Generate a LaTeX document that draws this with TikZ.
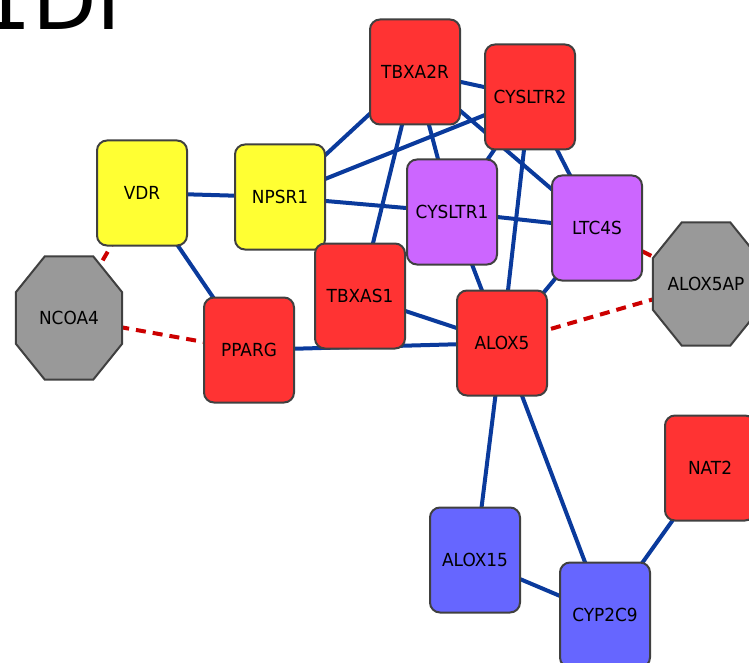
\documentclass[tikz,border=0pt]{standalone}
\usepackage{fontspec}
\setmainfont{DejaVu Sans}[FakeStretch=0.94]
\newfontfamily\titlefont{DejaVu Sans}
\usetikzlibrary{backgrounds}

\definecolor{genered}{HTML}{FF3333}
\definecolor{geneyellow}{HTML}{FFFF33}
\definecolor{genepurple}{HTML}{CC66FF}
\definecolor{geneblue}{HTML}{6666FF}
\definecolor{genegrey}{HTML}{999999}
\definecolor{edgeblue}{HTML}{0A3A9C}
\definecolor{edgered}{HTML}{CC0000}
\definecolor{bordergrey}{HTML}{404040}

\tikzset{
  gene/.style={draw=bordergrey, line width=2pt, rounded corners=10pt,
    minimum width=90pt, minimum height=105pt, inner sep=0pt,
    font=\fontsize{18}{18}\selectfont},
  octnode/.style={minimum width=106pt, minimum height=123pt, inner sep=0pt,
    font=\fontsize{18}{18}\selectfont},
  octagon/.style={draw=bordergrey, line width=2pt, fill=genegrey},
  link/.style={edgeblue, line width=4pt},
  predicted/.style={edgered, line width=4pt, dash pattern=on 10pt off 7pt}
}

% octagon round a named node
\newcommand{\drawoct}[1]{%
  \draw[octagon] ([xshift=29pt]#1.north west) -- ([xshift=-29pt]#1.north east)
    -- ([yshift=-36pt]#1.north east) -- ([yshift=36pt]#1.south east)
    -- ([xshift=-29pt]#1.south east) -- ([xshift=29pt]#1.south west)
    -- ([yshift=36pt]#1.south west) -- ([yshift=-36pt]#1.north west) -- cycle;}

\begin{document}
\begin{tikzpicture}[x=1pt,y=-1pt]
            \useasboundingbox (0,0) rectangle (749,663);

            % title, cut at the top
            \node[anchor=base west, inner sep=0pt, font=\titlefont\fontsize{84}{84}\selectfont] (title) at (-21.6,30) {1DI};

            % draw the genes
            \node[gene, fill=genered] (tbxa2r) at (415,72) {TBXA2R};
            \node[gene, fill=genered] (cysltr2) at (530,97) {CYSLTR2};
            \node[gene, fill=geneyellow] (vdr) at (142,193) {VDR};
            \node[gene, fill=geneyellow] (npsr1) at (280,197) {NPSR1};
            \node[gene, fill=genepurple] (cysltr1) at (452,212) {CYSLTR1};
            \node[gene, fill=genepurple] (ltc4s) at (597,228) {LTC4S};
            \node[gene, fill=genered] (tbxas1) at (360,296) {TBXAS1};
            \node[gene, fill=genered] (alox5) at (502,343) {ALOX5};
            \node[gene, fill=genered] (pparg) at (249,350) {PPARG};
            \node[gene, fill=genered] (nat2) at (710,468) {NAT2};
            \node[gene, fill=geneblue] (alox15) at (475,560) {ALOX15};
            \node[gene, fill=geneblue] (cyp2c9) at (605,615) {CYP2C9};

            % the grey ones
            \node[octnode] (ncoa4) at (69,318) {NCOA4};
            \node[octnode] (alox5ap) at (706,284) {ALOX5AP};

            \begin{pgfonlayer}{background}
            % draw the interactions
            \draw[link] (vdr.center) -- (npsr1.center);
            \draw[link] (vdr.center) -- (pparg.center);
            \draw[link] (npsr1.center) -- (tbxa2r.center);
            \draw[link] (npsr1.center) -- (cysltr2.center);
            \draw[link] (npsr1.center) -- (cysltr1.center);
            \draw[link] (tbxa2r.center) -- (cysltr2.center);
            \draw[link] (tbxa2r.center) -- (cysltr1.center);
            \draw[link] (tbxa2r.center) -- (ltc4s.center);
            \draw[link] (tbxa2r.center) -- (tbxas1.center);
            \draw[link] (cysltr2.center) -- (cysltr1.center);
            \draw[link] (cysltr2.center) -- (ltc4s.center);
            \draw[link] (cysltr2.center) -- (alox5.center);
            \draw[link] (cysltr1.center) -- (ltc4s.center);
            \draw[link] (cysltr1.center) -- (alox5.center);
            \draw[link] (ltc4s.center) -- (alox5.center);
            \draw[link] (tbxas1.center) -- (alox5.center);
            \draw[link] (pparg.center) -- (alox5.center);
            \draw[link] (alox5.center) -- (alox15.center);
            \draw[link] (alox5.center) -- (cyp2c9.center);
            \draw[link] (alox15.center) -- (cyp2c9.center);
            \draw[link] (nat2.center) -- (cyp2c9.center);

            % dashed red ones
            \draw[predicted] (vdr.center) -- (ncoa4.center);
            \draw[predicted] (ncoa4.center) -- (pparg.center);
            \draw[predicted] (ltc4s.center) -- (alox5ap.center);
            \draw[predicted] (alox5.center) -- (alox5ap.center);

            % octagons over the lines
            \drawoct{ncoa4}
            \drawoct{alox5ap}
            \end{pgfonlayer}

        \end{tikzpicture}
\end{document}
